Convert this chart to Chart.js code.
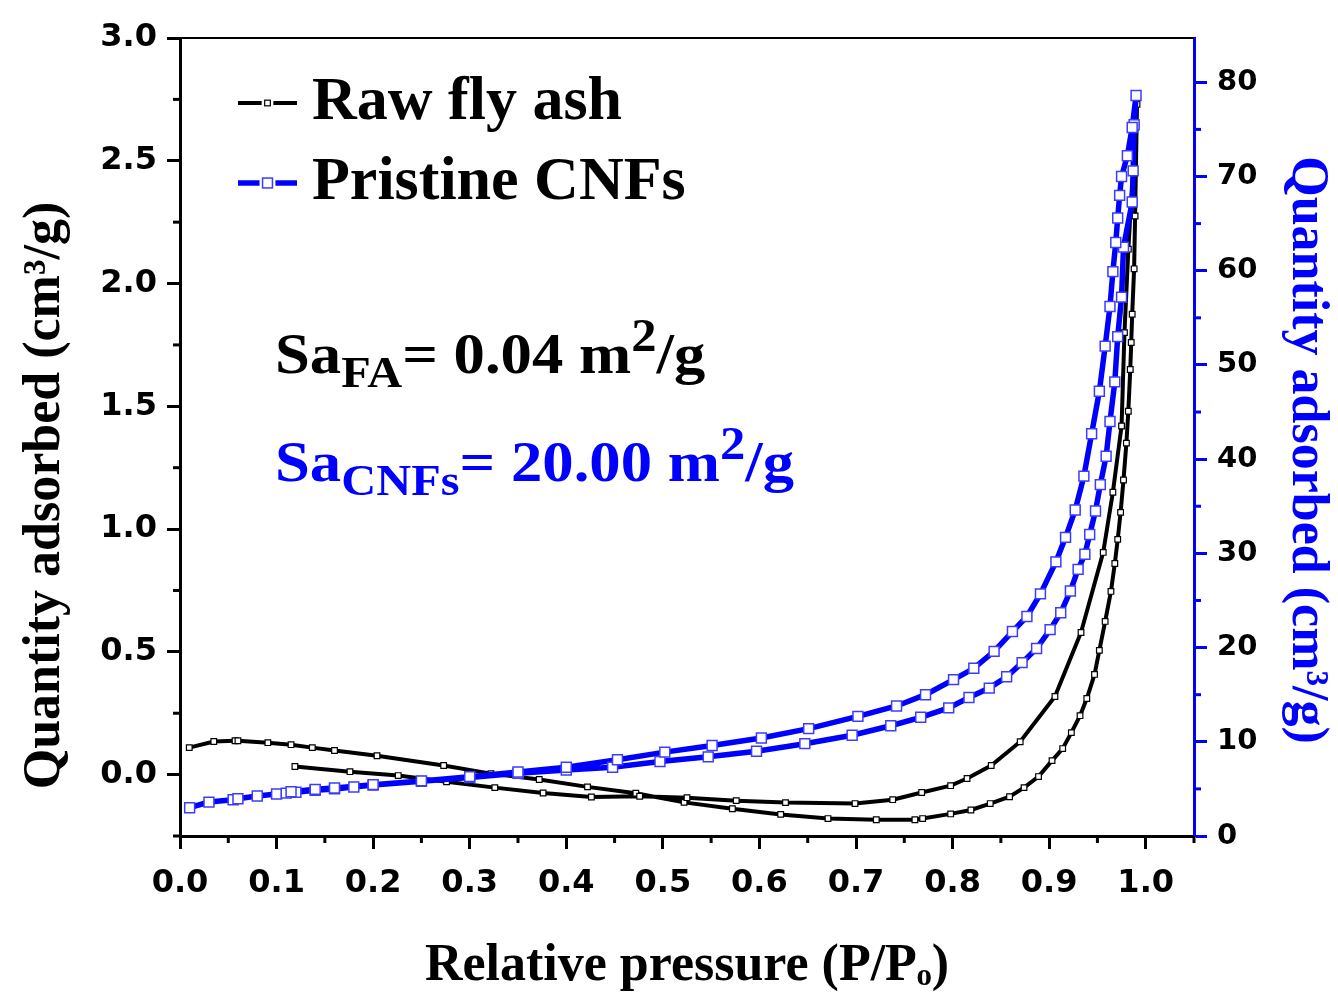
<!DOCTYPE html>
<html><head><meta charset="utf-8">
<script src="https://cdn.jsdelivr.net/npm/chart.js@4.4.0/dist/chart.umd.min.js"></script>
<style>html,body{margin:0;padding:0;background:#fff;}canvas{display:block;}</style>
</head><body>
<canvas id="c" width="1338" height="994"></canvas>
<script>
// ---------- data ----------
const seriesLabels = ['Raw fly ash', 'Pristine CNFs'];
// Raw fly ash: adsorption branch then desorption branch (left axis)
const flyAshP = [0.0096,0.035,0.057,0.060,0.091,0.115,0.137,0.160,0.204,0.273,0.322,0.372,0.422,0.472,0.522,0.572,0.622,0.671,0.721,0.761,0.769,0.798,0.819,0.839,0.859,0.874,0.889,0.903,0.914,0.923,0.932,0.939,0.947,0.952,0.958,0.964,0.968,0.971,0.974,0.977,0.980,0.982,0.984,0.985,0.986,0.988,0.989,0.991,
  0.990,0.987,0.985,0.982,0.978,0.975,0.966,0.956,0.933,0.906,0.870,0.840,0.815,0.798,0.768,0.738,0.699,0.627,0.576,0.525,0.476,0.426,0.376,0.326,0.276,0.226,0.176,0.119];
const flyAshQ = [0.110,0.135,0.138,0.138,0.130,0.122,0.110,0.098,0.077,0.037,0.004,-0.020,-0.050,-0.076,-0.113,-0.139,-0.162,-0.179,-0.184,-0.184,-0.179,-0.160,-0.144,-0.118,-0.090,-0.053,-0.008,0.057,0.106,0.171,0.240,0.310,0.408,0.506,0.624,0.746,0.860,0.958,1.068,1.200,1.350,1.480,1.650,1.760,1.875,2.060,2.275,2.730,
  2.650,2.460,2.340,2.140,1.800,1.420,1.150,0.905,0.579,0.318,0.134,0.037,-0.016,-0.045,-0.073,-0.102,-0.118,-0.114,-0.106,-0.094,-0.088,-0.091,-0.075,-0.053,-0.029,-0.004,0.012,0.033];
// Pristine CNFs: adsorption branch then desorption branch (right axis)
const cnfP = [0.010,0.030,0.055,0.060,0.080,0.100,0.110,0.120,0.140,0.160,0.180,0.200,0.250,0.300,0.350,0.400,0.448,0.497,0.547,0.597,0.647,0.696,0.736,0.767,0.796,0.817,0.838,0.856,0.872,0.887,0.901,0.912,0.922,0.930,0.937,0.942,0.948,0.953,0.959,0.963,0.968,0.971,0.975,0.977,0.986,0.987,0.988,0.990,
  0.986,0.981,0.975,0.973,0.971,0.969,0.966,0.963,0.958,0.952,0.944,0.936,0.927,0.917,0.907,0.891,0.877,0.862,0.843,0.822,0.801,0.772,0.742,0.702,0.651,0.602,0.551,0.502,0.453,0.400,0.350,0.300,0.250,0.200,0.160,0.140,0.115];
const cnfQ = [3.0,3.6,3.85,3.95,4.25,4.45,4.55,4.65,4.85,5.0,5.2,5.4,5.8,6.2,6.65,7.0,7.3,7.9,8.4,9.0,9.8,10.7,11.7,12.6,13.6,14.7,15.7,16.9,18.4,19.9,21.9,23.7,26.0,28.3,29.9,32.0,34.5,37.3,40.3,44.0,48.2,53.0,57.2,62.5,67.3,70.6,75.5,78.6,
  75.2,72.2,70.0,68.0,65.6,63.0,59.9,56.2,52.0,47.2,42.7,38.2,34.6,31.7,29.1,25.7,23.3,21.7,19.6,17.8,16.6,15.0,13.8,12.7,11.4,10.4,9.6,8.9,8.1,7.3,6.8,6.3,5.85,5.45,5.1,4.95,4.7];

// ---------- ticks ----------
const xTickValues = [0,0.1,0.2,0.3,0.4,0.5,0.6,0.7,0.8,0.9,1.0];
const xTickLabels = ['0.0','0.1','0.2','0.3','0.4','0.5','0.6','0.7','0.8','0.9','1.0'];
const xMinorValues = [0.05,0.15,0.25,0.35,0.45,0.55,0.65,0.75,0.85,0.95,1.05];
const yTickValues = [0,0.5,1.0,1.5,2.0,2.5,3.0];
const yTickLabels = ['0.0','0.5','1.0','1.5','2.0','2.5','3.0'];
const yMinorValues = [-0.25,0.25,0.75,1.25,1.75,2.25,2.75];
const y2TickValues = [0,10,20,30,40,50,60,70,80];
const y2TickLabels = ['0','10','20','30','40','50','60','70','80'];
const y2MinorValues = [5,15,25,35,45,55,65,75];

// ---------- texts ----------
const xTitle = 'Relative pressure (P/Pₒ)';
const yTitle = 'Quantity adsorbed (cm³/g)';
const noteFA = [['Sa',0],['FA',1],['= 0.04 m',0],['2',2],['/g',0]];
const noteCNF = [['Sa',0],['CNFs',1],['= 20.00 m',0],['2',2],['/g',0]];

const BLACK = '#000000', BLUE = '#0000ff';
const tickFont = {family:'DejaVu Sans', weight:'bold', size:32};
const titleFont = {family:'Liberation Serif', weight:'bold', size:52, lineHeight:1.05};

const extras = {
  id:'extras',
  afterDraw(chart){
    const ctx = chart.ctx, ca = chart.chartArea;
    const sx = chart.scales.x, sy = chart.scales.y, sy2 = chart.scales.y2;
    ctx.save();
    // top frame
    ctx.strokeStyle = BLACK; ctx.lineWidth = 2;
    ctx.beginPath(); ctx.moveTo(ca.left, ca.top); ctx.lineTo(ca.right, ca.top); ctx.stroke();
    // minor ticks
    ctx.lineWidth = 3;
    ctx.strokeStyle = BLACK;
    xMinorValues.forEach(v=>{const p=sx.getPixelForValue(v);ctx.beginPath();ctx.moveTo(p,ca.bottom);ctx.lineTo(p,ca.bottom+7);ctx.stroke();});
    yMinorValues.forEach(v=>{const p=sy.getPixelForValue(v);ctx.beginPath();ctx.moveTo(ca.left,p);ctx.lineTo(ca.left-7,p);ctx.stroke();});
    ctx.strokeStyle = BLUE;
    y2MinorValues.forEach(v=>{const p=sy2.getPixelForValue(v);ctx.beginPath();ctx.moveTo(ca.right,p);ctx.lineTo(ca.right+7,p);ctx.stroke();});
    // legend
    const rows = [{ds:chart.data.datasets[1], y:103}, {ds:chart.data.datasets[0], y:183}];
    rows.forEach((r)=>{
      const ds = r.ds, x0 = ca.left + 58;
      ctx.strokeStyle = ds.borderColor; ctx.lineWidth = ds.borderWidth;
      ctx.beginPath(); ctx.moveTo(x0, r.y); ctx.lineTo(x0+59, r.y); ctx.stroke();
      const s = ds.pointRadius*1.414;
      ctx.fillStyle = '#fff'; ctx.fillRect(x0+29.5-s/2-3, r.y-s/2-2, s+6, s+4);
      ctx.strokeStyle = ds.pointBorderColor; ctx.lineWidth = ds.pointBorderWidth;
      ctx.strokeRect(x0+29.5-s/2, r.y-s/2, s, s);
      ctx.fillStyle = BLACK; ctx.font = 'bold 62px "Liberation Serif"';
      ctx.textBaseline = 'alphabetic'; ctx.textAlign = 'left';
      ctx.fillText(ds.label, x0+74, r.y+16);
    });
    // annotations (slightly stretched horizontally to mimic the wide original face)
    const drawRich = (parts, x, y, color) => {
      ctx.save();
      ctx.translate(x, y); ctx.scale(1.1, 1);
      ctx.fillStyle = color; ctx.textBaseline = 'alphabetic'; ctx.textAlign='left';
      let cx = 0;
      parts.forEach(([t,k])=>{
        let size = 57, dy = 0;
        if (k===1){ size = 44; dy = 14; }
        if (k===2){ size = 46; dy = -22; }
        ctx.font = 'bold '+size+'px "Liberation Serif"';
        ctx.fillText(t, cx, dy);
        cx += ctx.measureText(t).width;
      });
      ctx.restore();
    };
    drawRich(noteFA, 275, 373, BLACK);
    drawRich(noteCNF, 275, 481, BLUE);
    ctx.restore();
  }
};

const mk = (P,Q) => P.map((p,i)=>({x:p, y:Q[i]}));

new Chart(document.getElementById('c'), {
  type:'scatter',
  data:{datasets:[
    {label:seriesLabels[1], data:mk(cnfP,cnfQ), yAxisID:'y2', showLine:true, borderColor:BLUE, borderWidth:5.5,
     pointStyle:'rect', pointRadius:7, pointBackgroundColor:'#fff', pointBorderColor:'#3c3cff', pointBorderWidth:1.5, order:0},
    {label:seriesLabels[0], data:mk(flyAshP,flyAshQ), yAxisID:'y', showLine:true, borderColor:BLACK, borderWidth:4,
     pointStyle:'rect', pointRadius:4, pointBackgroundColor:'#fff', pointBorderColor:'#000', pointBorderWidth:1.2, order:1}
  ]},
  options:{
    responsive:false, animation:false, devicePixelRatio:1,
    layout:{padding:{top:38,left:0,right:0,bottom:0}},
    plugins:{legend:{display:false}, tooltip:{enabled:false}},
    scales:{
      x:{type:'linear', position:'bottom', min:0, max:1.05,
        afterBuildTicks:s=>{s.ticks = xTickValues.map(v=>({value:v}));},
        afterFit:s=>{s.height = 158;},
        ticks:{callback:(v,i)=>xTickLabels[i], font:tickFont, color:BLACK, padding:15, maxRotation:0, autoSkip:false},
        grid:{drawOnChartArea:false, drawTicks:true, tickLength:13, tickWidth:3, tickColor:BLACK},
        border:{color:BLACK, width:3},
        title:{display:true, text:xTitle, font:titleFont, color:BLACK, padding:{top:0,bottom:0}}
      },
      y:{type:'linear', position:'left', min:-0.25, max:3.0,
        afterBuildTicks:s=>{s.ticks = yTickValues.map(v=>({value:v}));},
        afterFit:s=>{s.width = 180;},
        ticks:{callback:(v,i)=>yTickLabels[i], font:tickFont, color:BLACK, padding:10, autoSkip:false},
        grid:{drawOnChartArea:false, drawTicks:true, tickLength:13, tickWidth:3, tickColor:BLACK},
        border:{color:BLACK, width:3},
        title:{display:true, text:yTitle + '         ', font:titleFont, color:BLACK, padding:{top:18,bottom:0}}
      },
      y2:{type:'linear', position:'right', min:0, max:84.7,
        afterBuildTicks:s=>{s.ticks = y2TickValues.map(v=>({value:v}));},
        afterFit:s=>{s.width = 144;},
        ticks:{callback:(v,i)=>y2TickLabels[i], font:{family:'DejaVu Sans', weight:'bold', size:29}, color:BLACK, padding:10, autoSkip:false},
        grid:{drawOnChartArea:false, drawTicks:true, tickLength:13, tickWidth:3, tickColor:BLUE},
        border:{color:BLUE, width:3},
        title:{display:true, text:'  ' + yTitle, font:titleFont, color:BLUE, padding:{top:4,bottom:0}}
      }
    }
  },
  plugins:[extras]
});
</script>
</body></html>
